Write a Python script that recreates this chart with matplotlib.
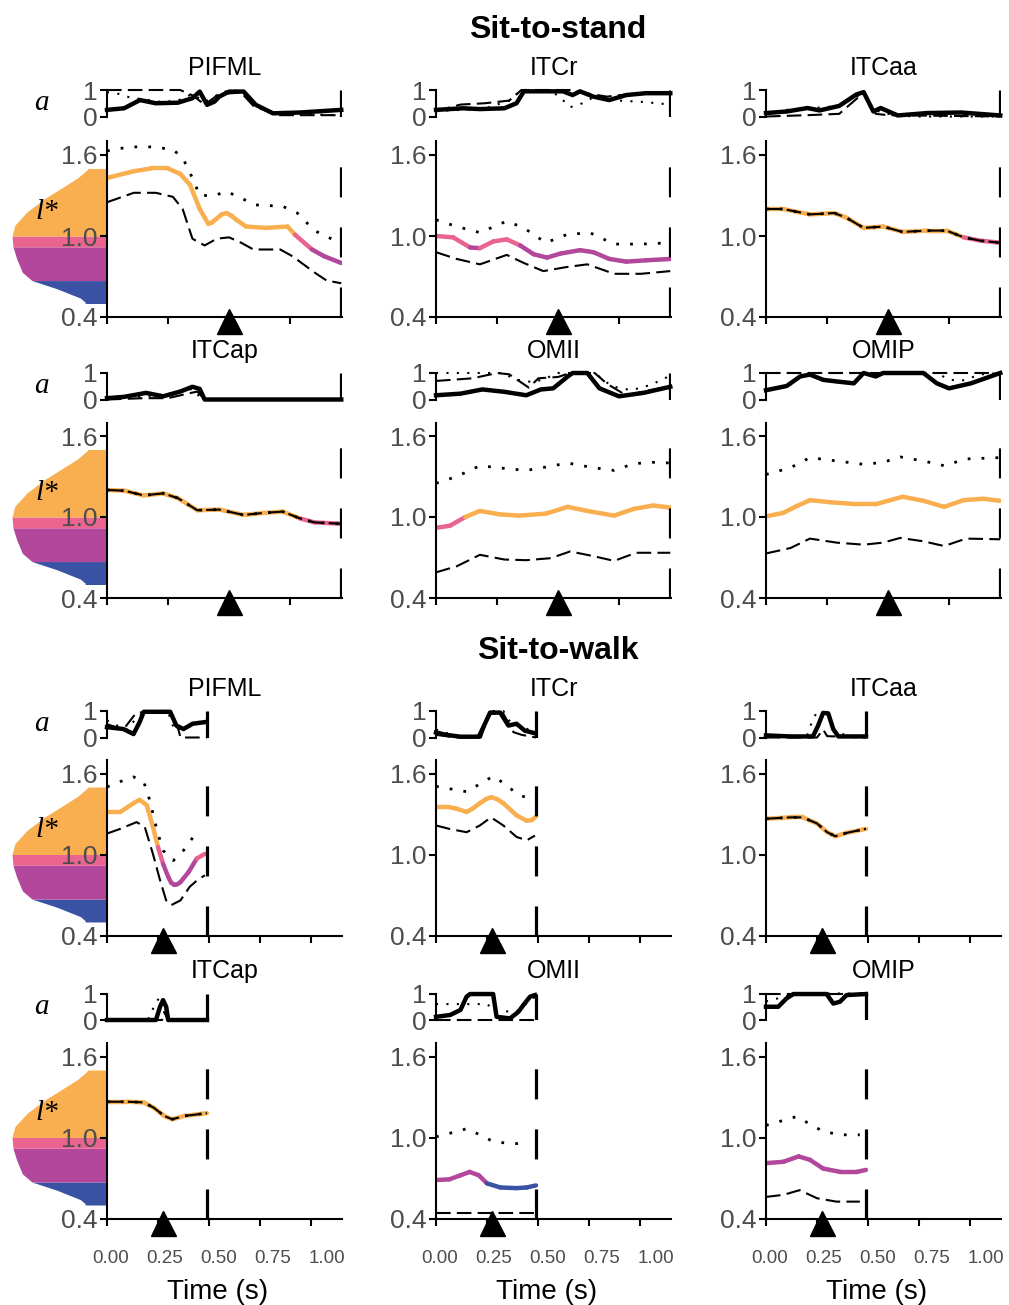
import numpy as np
import matplotlib as mpl
import matplotlib.pyplot as plt
from matplotlib.collections import LineCollection
from matplotlib.colors import ListedColormap, BoundaryNorm

mpl.rcParams['font.family'] = ['Liberation Sans', 'DejaVu Sans']
p = plt.rcParams
p['axes.linewidth'] = 1.5
p['xtick.major.width'] = 1.5
p['ytick.major.width'] = 1.5
p['xtick.major.size'] = 5
p['ytick.major.size'] = 5
p['xtick.labelcolor'] = '#4d4d4d'
p['ytick.labelcolor'] = '#4d4d4d'

W, H = 1009, 1305

# l* regions (blue < 0.67 < magenta < 0.92 < pink < 1.0 < orange)
band_edges = [0.0, 0.67, 0.92, 1.0, 2.0]
band_colors = ['#3a52a3', '#b2479b', '#e9648f', '#f9ae4f']

# distribution of l* (drawn left of the first column)
dens_l = np.array([1.50, 1.49, 1.43, 1.35, 1.28, 1.18, 1.08, 1.00, 0.92, 0.83, 0.73, 0.67, 0.61, 0.54, 0.51, 0.50])
dens_w = np.array([0.20, 0.21, 0.31, 0.49, 0.65, 0.84, 0.97, 1.00, 0.99, 0.95, 0.89, 0.79, 0.53, 0.28, 0.23, 0.23])

muscles = ['PIFML', 'ITCr', 'ITCaa', 'ITCap', 'OMII', 'OMIP']
task_titles = ['Sit-to-stand', 'Sit-to-walk']
task_end = [0.96, 0.49]
task_xmax = [0.963, 1.152]
event_time = [0.5, 0.275]
time_ticks = [0.0, 0.25, 0.5, 0.75, 1.0]
time_labels = ['0.00', '0.25', '0.50', '0.75', '1.00']

# ---- sit-to-stand: (time, value) ----
stand_pifml_mid = [(0.00, 1.43), (0.11, 1.48), (0.18, 1.50), (0.25, 1.50), (0.30, 1.46), (0.34, 1.38), (0.38, 1.20), (0.415, 1.09), (0.43, 1.10), (0.47, 1.16), (0.49, 1.17), (0.51, 1.15), (0.53, 1.12), (0.57, 1.07), (0.65, 1.06), (0.74, 1.07), (0.77, 1.01), (0.84, 0.90), (0.89, 0.85), (0.96, 0.80)]
stand_pifml_hi = [(0.00, 1.63), (0.09, 1.66), (0.19, 1.66), (0.27, 1.64), (0.31, 1.58), (0.35, 1.43), (0.38, 1.30), (0.44, 1.30), (0.49, 1.33), (0.55, 1.28), (0.61, 1.23), (0.72, 1.22), (0.78, 1.17), (0.85, 1.04), (0.93, 0.97), (0.96, 0.95)]
stand_pifml_lo = [(0.00, 1.25), (0.11, 1.32), (0.20, 1.32), (0.27, 1.29), (0.31, 1.20), (0.35, 0.98), (0.40, 0.93), (0.45, 0.98), (0.50, 0.99), (0.55, 0.95), (0.60, 0.90), (0.71, 0.90), (0.76, 0.85), (0.85, 0.73), (0.90, 0.67), (0.96, 0.65)]
stand_pifml_a = [(0.00, 0.25), (0.07, 0.31), (0.135, 0.62), (0.20, 0.50), (0.29, 0.52), (0.35, 0.69), (0.38, 0.94), (0.41, 0.44), (0.44, 0.56), (0.46, 0.75), (0.50, 0.94), (0.56, 0.94), (0.61, 0.44), (0.68, 0.12), (0.79, 0.15), (0.96, 0.25)]
stand_pifml_a_dot = [(0.00, 0.92), (0.05, 0.85), (0.10, 0.70), (0.15, 0.65), (0.22, 0.55), (0.29, 0.60), (0.35, 0.85), (0.40, 0.55), (0.45, 0.80), (0.50, 1.00), (0.55, 0.95), (0.60, 0.45), (0.68, 0.08), (0.80, 0.08), (0.96, 0.05)]
stand_pifml_a_dash = [(0.00, 1.00), (0.30, 1.00), (0.35, 0.80), (0.40, 0.45), (0.46, 0.85), (0.55, 0.90), (0.60, 0.40), (0.70, 0.05), (0.96, 0.05)]

stand_itcr_mid = [(0.00, 1.00), (0.07, 0.99), (0.14, 0.915), (0.18, 0.91), (0.235, 0.96), (0.29, 0.975), (0.345, 0.93), (0.40, 0.865), (0.455, 0.84), (0.51, 0.87), (0.59, 0.895), (0.645, 0.88), (0.71, 0.83), (0.78, 0.81), (0.86, 0.82), (0.96, 0.83)]
stand_itcr_hi = [(0.00, 1.12), (0.085, 1.07), (0.18, 1.025), (0.29, 1.11), (0.36, 1.06), (0.45, 0.95), (0.535, 1.01), (0.63, 1.025), (0.73, 0.94), (0.84, 0.94), (0.96, 0.95)]
stand_itcr_lo = [(0.00, 0.88), (0.085, 0.83), (0.18, 0.79), (0.29, 0.86), (0.36, 0.80), (0.44, 0.74), (0.535, 0.77), (0.62, 0.79), (0.73, 0.72), (0.84, 0.72), (0.96, 0.74)]
stand_itcr_a = [(0.00, 0.25), (0.11, 0.31), (0.18, 0.28), (0.28, 0.31), (0.33, 0.50), (0.36, 0.95), (0.52, 0.95), (0.56, 0.81), (0.59, 0.95), (0.645, 0.75), (0.71, 0.62), (0.78, 0.81), (0.86, 0.88), (0.96, 0.88)]
stand_itcr_a_dot = [(0.00, 0.20), (0.20, 0.30), (0.30, 0.60), (0.35, 1.00), (0.45, 1.00), (0.50, 0.80), (0.55, 0.35), (0.60, 0.50), (0.65, 0.75), (0.75, 0.60), (0.85, 0.55), (0.96, 0.45)]
stand_itcr_a_dash = [(0.00, 0.20), (0.10, 0.45), (0.20, 0.50), (0.30, 0.60), (0.35, 1.00), (0.55, 1.00), (0.60, 0.90), (0.70, 0.75), (0.80, 0.85), (0.96, 0.85)]

stand_itcaa_mid = [(0.00, 1.20), (0.07, 1.20), (0.18, 1.16), (0.28, 1.17), (0.33, 1.135), (0.40, 1.06), (0.48, 1.07), (0.56, 1.03), (0.66, 1.04), (0.74, 1.04), (0.81, 0.99), (0.88, 0.965), (0.96, 0.95)]
stand_itcaa_a = [(0.00, 0.13), (0.085, 0.19), (0.17, 0.32), (0.22, 0.23), (0.30, 0.40), (0.37, 0.83), (0.40, 0.92), (0.44, 0.19), (0.47, 0.32), (0.54, 0.04), (0.66, 0.13), (0.80, 0.15), (0.96, 0.04)]
stand_itcaa_a_dot = [(0.00, 0.10), (0.08, 0.25), (0.17, 0.30), (0.30, 0.40), (0.38, 0.80), (0.40, 0.90), (0.42, 0.50), (0.46, 0.20), (0.50, 0.10), (0.60, 0.00), (0.96, 0.00)]
stand_itcaa_a_dash = [(0.00, 0.00), (0.17, 0.05), (0.30, 0.10), (0.40, 0.90), (0.45, 0.10), (0.50, 0.05), (0.96, 0.00)]

stand_itcap_mid = [(0.00, 1.20), (0.07, 1.195), (0.15, 1.16), (0.23, 1.175), (0.29, 1.14), (0.37, 1.05), (0.46, 1.055), (0.56, 1.015), (0.64, 1.03), (0.72, 1.04), (0.79, 0.99), (0.85, 0.96), (0.96, 0.95)]
stand_itcap_a = [(0.00, 0.05), (0.07, 0.10), (0.16, 0.25), (0.23, 0.12), (0.30, 0.30), (0.35, 0.48), (0.38, 0.40), (0.40, 0.00), (0.96, 0.00)]
stand_itcap_a_dot = [(0.00, 0.00), (0.10, 0.08), (0.20, 0.15), (0.30, 0.30), (0.35, 0.40), (0.39, 0.00), (0.96, 0.00)]
stand_itcap_a_dash = [(0.00, 0.00), (0.15, 0.05), (0.25, 0.05), (0.32, 0.20), (0.37, 0.30), (0.40, 0.00), (0.96, 0.00)]

stand_omii_mid = [(0.00, 0.92), (0.057, 0.935), (0.12, 1.00), (0.18, 1.045), (0.26, 1.02), (0.34, 1.01), (0.45, 1.025), (0.54, 1.075), (0.62, 1.045), (0.73, 1.01), (0.81, 1.06), (0.89, 1.085), (0.96, 1.07)]
stand_omii_hi = [(0.00, 1.25), (0.085, 1.30), (0.18, 1.38), (0.28, 1.36), (0.37, 1.345), (0.45, 1.37), (0.54, 1.40), (0.645, 1.365), (0.73, 1.345), (0.81, 1.395), (0.89, 1.405), (0.96, 1.40)]
stand_omii_lo = [(0.00, 0.59), (0.085, 0.635), (0.18, 0.72), (0.28, 0.685), (0.37, 0.68), (0.47, 0.695), (0.55, 0.745), (0.645, 0.71), (0.73, 0.675), (0.82, 0.735), (0.96, 0.735)]
stand_omii_a = [(0.00, 0.16), (0.10, 0.22), (0.19, 0.38), (0.28, 0.29), (0.37, 0.16), (0.43, 0.38), (0.48, 0.42), (0.54, 0.87), (0.56, 1.00), (0.62, 1.00), (0.67, 0.42), (0.75, 0.12), (0.85, 0.25), (0.96, 0.48)]
stand_omii_a_dot = [(0.00, 1.00), (0.27, 1.00), (0.33, 0.75), (0.40, 0.65), (0.45, 0.80), (0.50, 1.00), (0.65, 1.00), (0.72, 0.50), (0.80, 0.35), (0.88, 0.55), (0.96, 0.90)]
stand_omii_a_dash = [(0.00, 0.70), (0.15, 0.80), (0.25, 1.00), (0.30, 0.95), (0.38, 0.45), (0.42, 0.80), (0.50, 0.85), (0.55, 1.00), (0.65, 1.00), (0.70, 0.60), (0.78, 0.15), (0.85, 0.30), (0.96, 0.50)]

stand_omip_mid = [(0.00, 1.005), (0.07, 1.03), (0.125, 1.08), (0.18, 1.125), (0.26, 1.11), (0.37, 1.095), (0.45, 1.095), (0.51, 1.125), (0.56, 1.15), (0.645, 1.12), (0.73, 1.075), (0.81, 1.125), (0.89, 1.135), (0.96, 1.12)]
stand_omip_hi = [(0.00, 1.315), (0.10, 1.365), (0.18, 1.44), (0.29, 1.415), (0.40, 1.39), (0.48, 1.405), (0.55, 1.445), (0.645, 1.415), (0.73, 1.38), (0.82, 1.43), (0.96, 1.44)]
stand_omip_lo = [(0.00, 0.73), (0.10, 0.77), (0.18, 0.84), (0.29, 0.81), (0.40, 0.795), (0.48, 0.81), (0.55, 0.845), (0.645, 0.82), (0.73, 0.785), (0.82, 0.84), (0.96, 0.835)]
stand_omip_a = [(0.00, 0.35), (0.085, 0.51), (0.14, 0.87), (0.18, 0.94), (0.235, 0.74), (0.29, 0.68), (0.36, 0.61), (0.40, 1.00), (0.45, 0.87), (0.48, 1.00), (0.645, 1.00), (0.70, 0.61), (0.75, 0.42), (0.84, 0.61), (0.96, 1.00)]
stand_omip_a_dot = [(0.00, 1.00), (0.70, 1.00), (0.75, 0.75), (0.80, 0.70), (0.88, 0.95), (0.96, 1.00)]
stand_omip_a_dash = [(0.00, 1.00), (0.96, 1.00)]

# ---- sit-to-walk ----
walk_pifml_mid = [(0.00, 1.315), (0.065, 1.315), (0.13, 1.38), (0.16, 1.405), (0.195, 1.365), (0.225, 1.205), (0.25, 1.055), (0.275, 0.93), (0.30, 0.835), (0.315, 0.79), (0.33, 0.775), (0.345, 0.78), (0.36, 0.795), (0.40, 0.87), (0.44, 0.97), (0.48, 1.005)]
walk_pifml_hi = [(0.00, 1.50), (0.065, 1.54), (0.13, 1.575), (0.18, 1.54), (0.21, 1.40), (0.245, 1.18), (0.275, 1.03), (0.325, 0.955), (0.375, 1.03), (0.43, 1.145), (0.455, 1.105)]
walk_pifml_lo = [(0.00, 1.155), (0.065, 1.19), (0.145, 1.24), (0.185, 1.205), (0.225, 1.005), (0.26, 0.81), (0.29, 0.66), (0.315, 0.625), (0.36, 0.66), (0.405, 0.76), (0.45, 0.82), (0.48, 0.845)]
walk_pifml_a = [(0.00, 0.39), (0.08, 0.32), (0.13, 0.13), (0.16, 0.58), (0.18, 0.97), (0.31, 0.97), (0.34, 0.45), (0.375, 0.32), (0.42, 0.52), (0.48, 0.58)]
walk_pifml_a_dot = [(0.00, 0.65), (0.05, 0.45), (0.10, 0.30), (0.15, 0.80), (0.20, 0.95), (0.30, 0.95), (0.33, 0.30), (0.38, 0.35), (0.45, 0.55), (0.49, 0.60)]
walk_pifml_a_dash = [(0.00, 0.50), (0.08, 0.30), (0.14, 0.90), (0.20, 1.00), (0.30, 1.00), (0.35, 0.30), (0.36, 0.00), (0.49, 0.00)]

walk_itcr_mid = [(0.00, 1.35), (0.065, 1.35), (0.10, 1.34), (0.15, 1.315), (0.18, 1.34), (0.215, 1.38), (0.245, 1.41), (0.27, 1.425), (0.30, 1.41), (0.33, 1.38), (0.395, 1.29), (0.445, 1.25), (0.47, 1.255), (0.49, 1.28)]
walk_itcr_hi = [(0.00, 1.505), (0.15, 1.465), (0.28, 1.58), (0.345, 1.515), (0.395, 1.45), (0.47, 1.405)]
walk_itcr_lo = [(0.00, 1.215), (0.065, 1.19), (0.15, 1.165), (0.215, 1.215), (0.27, 1.275), (0.33, 1.215), (0.395, 1.13), (0.445, 1.105), (0.485, 1.14)]
walk_itcr_a = [(0.00, 0.19), (0.05, 0.10), (0.12, 0.03), (0.21, 0.03), (0.24, 0.52), (0.265, 0.94), (0.315, 0.94), (0.355, 0.45), (0.395, 0.52), (0.435, 0.26), (0.485, 0.16)]
walk_itcr_a_dot = [(0.00, 0.30), (0.10, 0.05), (0.20, 0.05), (0.24, 0.40), (0.27, 1.00), (0.33, 1.00), (0.37, 0.50), (0.42, 0.40), (0.49, 0.20)]
walk_itcr_a_dash = [(0.00, 0.10), (0.10, 0.00), (0.22, 0.00), (0.26, 0.90), (0.33, 0.90), (0.38, 0.20), (0.42, 0.10), (0.49, 0.00)]

walk_itcaa_mid = [(0.00, 1.265), (0.12, 1.275), (0.18, 1.275), (0.25, 1.23), (0.30, 1.165), (0.34, 1.135), (0.395, 1.16), (0.49, 1.19)]
walk_itcaa_a = [(0.00, 0.08), (0.12, 0.04), (0.23, 0.04), (0.255, 0.44), (0.28, 0.93), (0.305, 0.91), (0.33, 0.31), (0.355, 0.04), (0.49, 0.04)]
walk_itcaa_a_dot = [(0.00, 0.05), (0.20, 0.05), (0.23, 0.70), (0.25, 0.95), (0.30, 0.90), (0.33, 0.30), (0.37, 0.15), (0.40, 0.05), (0.49, 0.05)]
walk_itcaa_a_dash = [(0.00, 0.00), (0.25, 0.00), (0.28, 0.30), (0.30, 0.05), (0.49, 0.00)]

walk_itcap_mid = [(0.00, 1.265), (0.10, 1.265), (0.18, 1.26), (0.23, 1.22), (0.28, 1.16), (0.32, 1.135), (0.38, 1.16), (0.49, 1.18)]
walk_itcap_a = [(0.00, 0.00), (0.24, 0.00), (0.26, 0.50), (0.275, 0.75), (0.29, 0.50), (0.30, 0.00), (0.49, 0.00)]
walk_itcap_a_dot = [(0.00, 0.00), (0.20, 0.00), (0.23, 0.50), (0.26, 0.90), (0.28, 0.60), (0.30, 0.00), (0.49, 0.00)]
walk_itcap_a_dash = [(0.00, 0.00), (0.27, 0.00), (0.28, 0.30), (0.30, 0.00), (0.49, 0.00)]

walk_omii_mid = [(0.00, 0.685), (0.065, 0.69), (0.12, 0.72), (0.165, 0.745), (0.21, 0.72), (0.25, 0.66), (0.315, 0.63), (0.395, 0.625), (0.445, 0.63), (0.49, 0.645)]
walk_omii_hi = [(0.00, 1.005), (0.065, 1.03), (0.15, 1.065), (0.215, 1.02), (0.28, 0.97), (0.365, 0.955), (0.445, 0.955)]
walk_omii_lo = [(0.00, 0.44), (0.49, 0.44)]
walk_omii_a = [(0.00, 0.12), (0.07, 0.19), (0.12, 0.38), (0.15, 0.88), (0.167, 0.98), (0.28, 0.98), (0.297, 0.12), (0.363, 0.06), (0.404, 0.31), (0.428, 0.56), (0.461, 0.88), (0.485, 0.94)]
walk_omii_a_dot = [(0.00, 0.60), (0.25, 0.60), (0.30, 0.30), (0.40, 0.35), (0.44, 0.60), (0.49, 0.90)]
walk_omii_a_dash = [(0.00, 0.00), (0.49, 0.00)]

walk_omip_mid = [(0.00, 0.81), (0.085, 0.82), (0.16, 0.86), (0.215, 0.835), (0.28, 0.77), (0.365, 0.745), (0.445, 0.745), (0.49, 0.76)]
walk_omip_hi = [(0.00, 1.09), (0.15, 1.155), (0.28, 1.045), (0.365, 1.02), (0.46, 1.02)]
walk_omip_lo = [(0.00, 0.56), (0.085, 0.575), (0.165, 0.61), (0.25, 0.55), (0.345, 0.525), (0.46, 0.525)]
walk_omip_a = [(0.00, 0.50), (0.06, 0.50), (0.10, 0.81), (0.134, 0.98), (0.297, 0.98), (0.33, 0.62), (0.363, 0.69), (0.395, 0.94), (0.49, 0.98)]
walk_omip_a_dot = [(0.00, 0.70), (0.10, 0.90), (0.15, 1.00), (0.49, 1.00)]
walk_omip_a_dash = [(0.00, 1.00), (0.49, 1.00)]

tasks = [
    [(stand_pifml_mid, stand_pifml_hi, stand_pifml_lo, stand_pifml_a, stand_pifml_a_dot, stand_pifml_a_dash),
     (stand_itcr_mid, stand_itcr_hi, stand_itcr_lo, stand_itcr_a, stand_itcr_a_dot, stand_itcr_a_dash),
     (stand_itcaa_mid, stand_itcaa_mid, stand_itcaa_mid, stand_itcaa_a, stand_itcaa_a_dot, stand_itcaa_a_dash),
     (stand_itcap_mid, stand_itcap_mid, stand_itcap_mid, stand_itcap_a, stand_itcap_a_dot, stand_itcap_a_dash),
     (stand_omii_mid, stand_omii_hi, stand_omii_lo, stand_omii_a, stand_omii_a_dot, stand_omii_a_dash),
     (stand_omip_mid, stand_omip_hi, stand_omip_lo, stand_omip_a, stand_omip_a_dot, stand_omip_a_dash)],
    [(walk_pifml_mid, walk_pifml_hi, walk_pifml_lo, walk_pifml_a, walk_pifml_a_dot, walk_pifml_a_dash),
     (walk_itcr_mid, walk_itcr_hi, walk_itcr_lo, walk_itcr_a, walk_itcr_a_dot, walk_itcr_a_dash),
     (walk_itcaa_mid, walk_itcaa_mid, walk_itcaa_mid, walk_itcaa_a, walk_itcaa_a_dot, walk_itcaa_a_dash),
     (walk_itcap_mid, walk_itcap_mid, walk_itcap_mid, walk_itcap_a, walk_itcap_a_dot, walk_itcap_a_dash),
     (walk_omii_mid, walk_omii_hi, walk_omii_lo, walk_omii_a, walk_omii_a_dot, walk_omii_a_dash),
     (walk_omip_mid, walk_omip_hi, walk_omip_lo, walk_omip_a, walk_omip_a_dot, walk_omip_a_dash)],
]

# layout in pixels
col_left = [107, 436, 766]
col_w = 235
main_bottom = [317, 598, 935.5, 1218.5]
px_per_unit = 135
l_lim = (0.4, 1.7)
a_top = [90, 373, 711, 993.5]
a_h = 26.5
task_title_y = [30, 651]

dotted = (0, (1, 4))
longdash = (0, (7, 3))
end_dash = (0, (9.4, 9.4))
serif = dict(family=['Liberation Serif', 'DejaVu Serif'], style='italic', size=21, color='k')

cmap = ListedColormap(band_colors)
norm = BoundaryNorm(band_edges, cmap.N)

fig = plt.figure(figsize=(W / 100, H / 100), dpi=100)


def px_axes(left, top, width, height):
    return fig.add_axes([left / W, 1 - (top + height) / H, width / W, height / H])


def colored_line(ax, pts):
    t, v = np.array(pts).T
    segs = np.stack([np.column_stack([t[:-1], v[:-1]]),
                     np.column_stack([t[1:], v[1:]])], axis=1)
    lc = LineCollection(segs, cmap=cmap, norm=norm, linewidths=3.2,
                        capstyle='round', joinstyle='round', zorder=2)
    lc.set_array((v[:-1] + v[1:]) / 2)
    ax.add_collection(lc)


def xy(pts):
    return np.array(pts).T


# the time labels in the figure sit on a slightly stretched scale
def lab_fwd(t):
    return (t - 0.02) / 1.058


def lab_inv(u):
    return 0.02 + 1.058 * u


for k, panels in enumerate(tasks):
    fig.text(558 / W, 1 - task_title_y[k] / H, task_titles[k], ha='center', va='center',
             fontsize=23, fontweight='bold')
    for i, (mid, hi, lo, act, act_dot, act_dash) in enumerate(panels):
        r = 2 * k + i // 3
        c = i % 3
        height = (l_lim[1] - l_lim[0]) * px_per_unit
        top = main_bottom[r] - height

        if c == 0:
            ax_d = px_axes(0, top, col_left[0], height)
            for lo_e, hi_e, col in zip(band_edges[:-1], band_edges[1:], band_colors):
                m = (dens_l >= lo_e) & (dens_l <= hi_e)
                ax_d.fill_betweenx(dens_l[m], 0, dens_w[m], color=col, lw=0)
            ax_d.set_ylim(*l_lim)
            ax_d.set_xlim(col_left[0] / 95, 0)
            ax_d.axis('off')

        # activation strip
        ax_a = px_axes(col_left[c], a_top[r], col_w, a_h)
        ax_a.plot(*xy(act_dot), color='k', lw=1.5, ls=dotted, clip_on=False)
        ax_a.plot(*xy(act_dash), color='k', lw=1.5, ls=longdash, clip_on=False)
        ax_a.plot(*xy(act), color='k', lw=3.2, clip_on=False, solid_joinstyle='round')
        ax_a.axvline(task_end[k], color='k', lw=2.3, ls=end_dash)
        ax_a.set_xticks([])
        ax_a.set_xlim(0, task_xmax[k])
        ax_a.set_ylim(0, 1)
        ax_a.set_yticks([0, 1], ['0', '1'])
        ax_a.tick_params(axis='y', labelsize=19, pad=2)
        for s in ['top', 'right', 'bottom']:
            ax_a.spines[s].set_visible(False)
        ax_a.set_title(muscles[i], fontsize=18, pad=11)
        if c == 0:
            ax_a.text(-0.277, 0.5, 'a', transform=ax_a.transAxes, ha='center', va='center', **serif)

        # normalized fibre length
        ax = px_axes(col_left[c], top, col_w, height)
        ax.set_facecolor('none')
        colored_line(ax, mid)
        ax.plot(*xy(hi), color='k', lw=2, ls=dotted, zorder=3)
        ax.plot(*xy(lo), color='k', lw=1.5, ls=longdash, zorder=3)
        ax.axvline(task_end[k], color='k', lw=2.3, ls=end_dash)
        ax.plot([event_time[k]], [-0.023], marker='^', ms=18, color='k',
                transform=ax.get_xaxis_transform(), clip_on=False, zorder=5)
        ax.set_xticks(time_ticks)
        ax.set_xlim(0, task_xmax[k])
        ax.set_ylim(*l_lim)
        ax.set_yticks([0.4, 1.0, 1.6], ['0.4', '1.0', '1.6'])
        ax.tick_params(axis='y', labelsize=19, pad=2)
        ax.tick_params(axis='x', labelbottom=False)
        for s in ['top', 'right']:
            ax.spines[s].set_visible(False)
        if r == 3:
            sec = ax.secondary_xaxis('bottom', functions=(lab_fwd, lab_inv))
            sec.set_xticks(time_ticks, time_labels)
            sec.tick_params(axis='x', length=0, labelsize=13.5, pad=23)
            sec.spines['bottom'].set_visible(False)
            ax.set_xlabel('Time (s)', fontsize=20)
            ax.xaxis.label.set_va('center')
            ax.xaxis.set_label_coords(0.472, -0.419)
        if c == 0:
            ax.text(-0.255, 1.18, 'l*', transform=ax.get_yaxis_transform(),
                    ha='center', va='center', **serif)

fig.savefig('out.png', dpi=100)
